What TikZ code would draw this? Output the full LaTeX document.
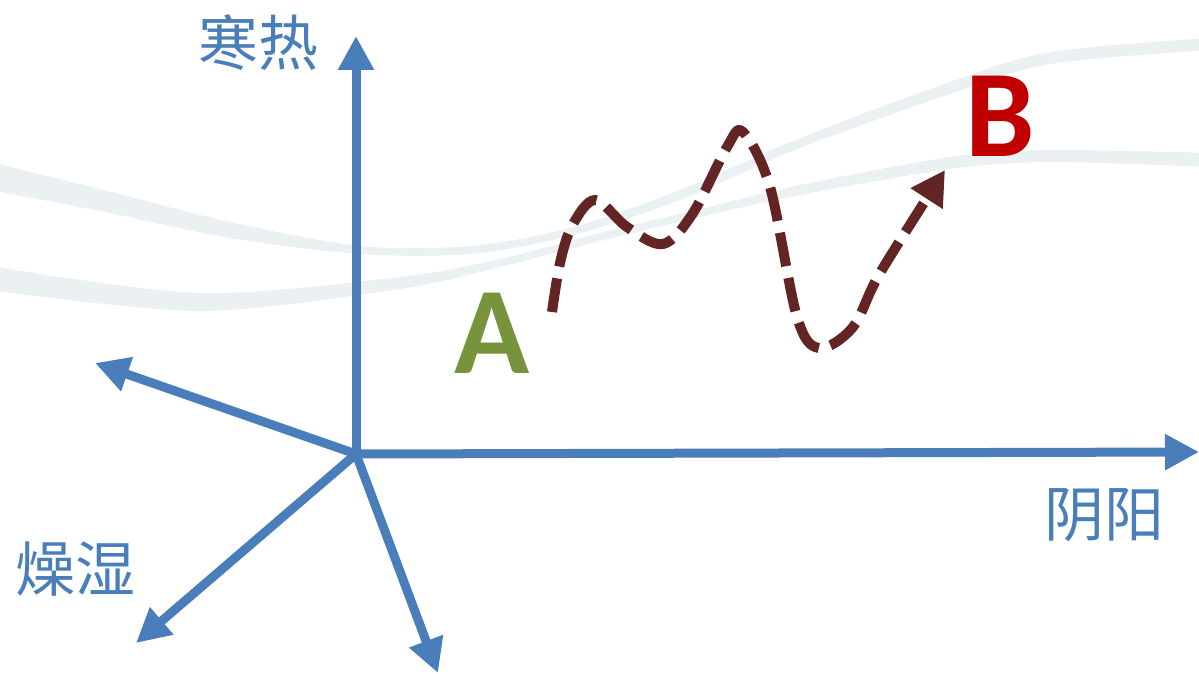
\documentclass[tikz,border=0pt]{standalone}
\usepackage{fontspec}
\newfontfamily\cjk{Noto Sans CJK SC}
\newfontfamily\calib{Carlito}
\usetikzlibrary{arrows.meta}
\definecolor{axisblue}{RGB}{74,126,187}
\definecolor{pathred}{RGB}{99,37,35}
\definecolor{agreen}{RGB}{119,147,60}
\definecolor{bred}{RGB}{192,0,0}
\definecolor{swooshc}{RGB}{235,240,243}
\begin{document}
\begin{tikzpicture}[x=1pt,y=-1pt,
  axisline/.style={line width=9pt, draw=axisblue, -{Triangle[width=34pt,length=34pt]}},
  axislabel/.style={text=axisblue, inner sep=0pt, font=\fontsize{60}{60}\selectfont\cjk},
  ptlabel/.style={inner sep=0pt, anchor=base, font=\fontsize{124}{124}\selectfont\calib\bfseries},
  swoosh/.style={fill=swooshc},
  route/.style={draw=pathred, line width=10pt, dash pattern=on 34pt off 12pt, -{Triangle[width=36pt,length=34pt]}}]
\useasboundingbox (0,0) rectangle (1199,674);
% background swooshes (tapered bands)
\fill[swoosh] plot[smooth] coordinates {(-10,162) (100,189) (230,222) (360,246) (470,246) (570,228) (680,190) (800,138) (950,82) (1050,52) (1210,38)}
  -- plot[smooth] coordinates {(1210,50) (1050,64) (950,94) (800,148) (680,200) (570,236) (470,254) (360,254) (230,238) (100,211) (-10,190)} -- cycle;
\fill[swoosh] plot[smooth] coordinates {(-10,266) (200,293) (400,277) (500,259) (600,233) (700,209) (800,185) (950,157) (1050,150) (1210,153)}
  -- plot[smooth] coordinates {(1210,167) (1050,162) (950,169) (800,195) (700,217) (600,241) (500,267) (400,289) (200,311) (-10,290)} -- cycle;
% axes
\coordinate (O) at (356,454);
\coordinate (up) at (356,36);
\coordinate (right) at (1199,452);
\coordinate (ul) at (95,363);
\coordinate (ll) at (136,643);
\coordinate (dn) at (438,673);
\draw[axisline] (O) -- (up);
\draw[axisline] (O) -- (right);
\draw[axisline] (O) -- (ul);
\draw[axisline] (O) -- (ll);
\draw[axisline] (O) -- (dn);
% labels
\node[axislabel] (hanre) at (258,43) {寒热};
\node[axislabel] (yinyang) at (1104,515) {阴阳};
\node[axislabel] (zaoshi) at (75,569) {燥湿};
\node[ptlabel, text=agreen] (A) at (492,373) {A};
\node[ptlabel, text=bred] (B) at (1000,157) {B};
% route from A to B
\coordinate (s) at (552,312);
\coordinate (e) at (945,170);
\draw[route] plot[smooth, tension=0.55] coordinates {(s) (560,263) (572,226) (595,200) (627,227) (663,244) (693,213) (727,147) (743,132) (770,187) (797,317) (819,348) (853,327) (880,273) (e)};
\end{tikzpicture}
\end{document}
